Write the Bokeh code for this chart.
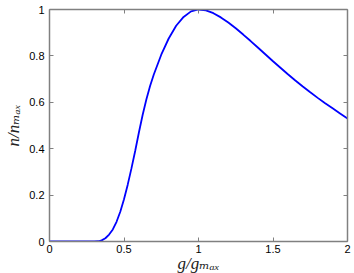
from bokeh.plotting import figure
from bokeh.models import LinearAxis, Range1d, FixedTicker
from bokeh.embed import file_html
from bokeh.resources import INLINE

# ---- data ----
g_ratio = [0.00, 0.30, 0.33, 0.35, 0.375, 0.40, 0.425, 0.45, 0.475, 0.50,
           0.525, 0.55, 0.575, 0.60, 0.625, 0.65, 0.675, 0.70, 0.75, 0.80,
           0.85, 0.90, 0.95, 1.00, 1.05, 1.10, 1.15, 1.20, 1.25, 1.30,
           1.35, 1.40, 1.45, 1.50, 1.55, 1.60, 1.65, 1.70, 1.75, 1.80,
           1.85, 1.90, 1.95, 2.00]
n_ratio = [0.000, 0.000, 0.001, 0.005, 0.014, 0.030, 0.052, 0.085, 0.128, 0.182,
           0.245, 0.315, 0.390, 0.470, 0.545, 0.612, 0.670, 0.720, 0.805, 0.875,
           0.930, 0.968, 0.992, 1.000, 0.996, 0.984, 0.966, 0.944, 0.919, 0.892,
           0.864, 0.835, 0.806, 0.777, 0.749, 0.721, 0.694, 0.668, 0.643, 0.619,
           0.596, 0.574, 0.552, 0.530]

x_ticks = [0, 0.5, 1, 1.5, 2]
x_tick_labels = ["0", "0.5", "1", "1.5", "2"]
y_ticks = [0, 0.2, 0.4, 0.6, 0.8, 1]
y_tick_labels = ["0", "0.2", "0.4", "0.6", "0.8", "1"]

x_title = "g/gₘₐₓ"
y_title = "n/nₘₐₓ"

AX = "#808080"
TICK_FONT = "Liberation Sans"
LAB_FONT = "'Liberation Serif', 'DejaVu Serif', serif"

p = figure(frame_width=298, frame_height=232,
           x_range=Range1d(0, 2), y_range=Range1d(0, 1),
           output_backend="svg", toolbar_location=None,
           min_border_left=49, min_border_right=7, min_border_top=9,
           min_border_bottom=32)
p.outline_line_color = None
p.xgrid.visible = False
p.ygrid.visible = False
p.background_fill_color = "white"
p.border_fill_color = "white"

def style(ax, ticks, labels, show):
    ax.ticker = FixedTicker(ticks=ticks)
    ax.major_label_overrides = {t: l for t, l in zip(ticks, labels)}
    ax.axis_line_color = AX
    ax.axis_line_width = 1.5
    ax.major_tick_line_color = AX
    ax.major_tick_line_width = 1
    ax.major_tick_in = 4
    ax.major_tick_out = 0
    ax.minor_tick_line_color = None
    ax.major_label_text_font = TICK_FONT
    if show:
        ax.major_label_text_font_size = "11px"
        ax.major_label_text_color = "black"
    else:
        ax.major_label_text_font_size = "0px"
        ax.major_label_text_color = None
        ax.major_label_standoff = 0

xa = p.xaxis[0]
ya = p.yaxis[0]
style(xa, x_ticks, x_tick_labels, True)
style(ya, y_ticks, y_tick_labels, True)
xa.major_label_standoff = 3
ya.major_label_standoff = 5

for ax, title, std in ((xa, x_title, -2), (ya, y_title, 3)):
    ax.axis_label = title
    ax.axis_label_text_font = LAB_FONT
    ax.axis_label_text_font_style = "italic"
    ax.axis_label_text_font_size = "17px"
    ax.axis_label_text_color = "#222222"
    ax.axis_label_standoff = std

top = LinearAxis()
right = LinearAxis()
style(top, x_ticks, x_tick_labels, False)
style(right, y_ticks, y_tick_labels, False)
p.add_layout(top, "above")
p.add_layout(right, "right")

p.line(g_ratio, n_ratio, line_color="#0000ff", line_width=1.8)

open("out.html", "w").write(file_html(p, INLINE))
